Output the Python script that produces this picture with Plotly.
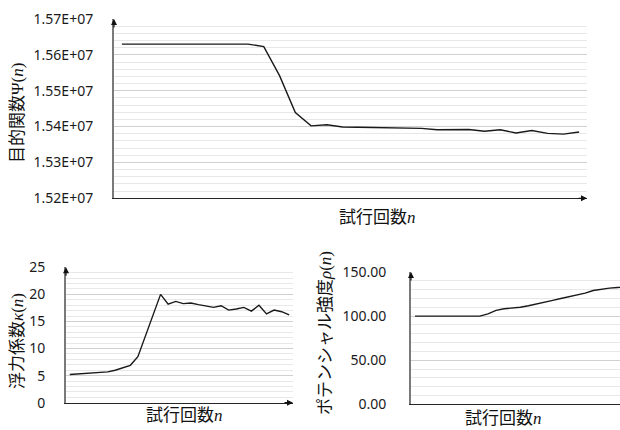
import plotly.graph_objects as go

trials = list(range(1, 31))
psi = [1.5630e7, 1.5630e7, 1.5630e7, 1.5630e7, 1.5630e7, 1.5630e7, 1.5630e7, 1.5630e7, 1.5630e7,
       1.5623e7, 1.5542e7, 1.5439e7, 1.5402e7, 1.5405e7, 1.5399e7, 1.5398e7, 1.5397e7, 1.5396e7,
       1.5396e7, 1.5395e7, 1.5391e7, 1.5391e7, 1.5392e7, 1.5387e7, 1.5391e7, 1.5382e7, 1.5389e7,
       1.5381e7, 1.5379e7, 1.5385e7]
kappa = [5.2, 5.3, 5.4, 5.5, 5.55, 5.7, 6.0, 6.45, 6.9, 8.5, 12.3, 16.2, 20.0, 18.2, 18.7,
         18.3, 18.4, 18.1, 17.9, 17.6, 17.9, 17.1, 17.3, 17.6, 16.9, 18.0, 16.4, 17.1, 16.8, 16.2]
rho = [100, 100, 100, 100, 100, 100, 100, 100, 100, 102.6, 106.5, 108.4, 109.0, 110.0, 111.8,
       113.6, 115.6, 117.9, 119.9, 121.7, 123.8, 126.0, 129.0, 130.5, 131.7, 132.4, 133.0, 133.5,
       134.0, 134.5]

psi_ticks = [1.52e7, 1.53e7, 1.54e7, 1.55e7, 1.56e7, 1.57e7]
psi_ticktext = ["1.52E+07", "1.53E+07", "1.54E+07", "1.55E+07", "1.56E+07", "1.57E+07"]

W, H = 620, 430
def px(x):
    return x / W
def py(y):
    return (H - y) / H

TICKFONT = dict(family="Noto Sans, Liberation Sans, sans-serif", size=14, color="#1a1a1a")
TITLEFONT = dict(family="Noto Sans CJK JP, sans-serif", size=17, color="#111")
GRID_MAJ = "#d0d0d0"
GRID_MIN = "#e8e8e8"
LINE = dict(color="#1a1a1a", width=1.4)

fig = go.Figure()
fig.add_trace(go.Scatter(x=trials, y=psi, mode="lines", line=LINE, xaxis="x", yaxis="y",
                         showlegend=False, hoverinfo="skip"))
fig.add_trace(go.Scatter(x=trials, y=kappa, mode="lines", line=LINE, xaxis="x2", yaxis="y2",
                         showlegend=False, hoverinfo="skip"))
fig.add_trace(go.Scatter(x=trials, y=rho, mode="lines", line=LINE, xaxis="x3", yaxis="y3",
                         showlegend=False, hoverinfo="skip"))

def xax(domain, rng, anchor):
    return dict(domain=domain, range=rng, anchor=anchor, showgrid=False, zeroline=False,
                showticklabels=False, ticks="", showline=True, linecolor="#262626", linewidth=1.4,
                automargin=False)

def yax(domain, rng, anchor, **kw):
    d = dict(domain=domain, range=rng, anchor=anchor, showgrid=True, gridcolor=GRID_MAJ,
             gridwidth=1, zeroline=False, ticks="", showline=True, linecolor="#7a7a7a",
             linewidth=2, tickfont=TICKFONT, ticklabelstandoff=16, automargin=False)
    d.update(kw)
    return d

fig.update_layout(
    width=W, height=H, margin=dict(l=0, r=0, t=0, b=0, pad=0), autosize=False,
    paper_bgcolor="white", plot_bgcolor="white",
    xaxis=xax([px(114), px(587)], [0.5, 30.5], "y"),
    yaxis=yax([py(198.3), py(19)], [1.52e7, 1.57e7], "x", tickmode="array",
              tickvals=psi_ticks, ticktext=psi_ticktext,
              minor=dict(tickmode="linear", tick0=1.52e7, dtick=2e4, showgrid=True,
                         gridcolor=GRID_MIN, gridwidth=1, ticks="")),
    xaxis2=xax([px(66), px(293)], [0.5, 30.5], "y2"),
    yaxis2=yax([py(402.7), py(267.3)], [0, 25], "x2", tickmode="linear", tick0=0, dtick=5,
               minor=dict(tickmode="linear", tick0=0, dtick=1, showgrid=True,
                          gridcolor=GRID_MIN, gridwidth=1, ticks="")),
    xaxis3=xax([px(411), 1.0], [0.5, 0.5 + (620 - 411) / 8.1], "y3"),
    yaxis3=yax([py(404.3), py(272)], [0, 150], "x3", tickmode="linear", tick0=0, dtick=50,
               tickformat=".2f", ticklabelstandoff=20,
               minor=dict(tickmode="linear", tick0=0, dtick=10, showgrid=True,
                          gridcolor=GRID_MIN, gridwidth=1, ticks="")),
)

SERIF = "font-family:'Liberation Serif','DejaVu Serif',serif"
def title(cjk, sym):
    return f"{cjk}<span style=\"{SERIF}\">{sym}(<i>n</i>)</span>"
xtitle = f"試行回数<span style=\"{SERIF}\"><i>n</i></span>"

ann = [
    dict(text=title("目的関数", "Ψ"), x=px(15), y=py(113), textangle=-90),
    dict(text=xtitle, x=px(377), y=py(215)),
    dict(text=title("浮力係数", "<i>κ</i>"), x=px(15), y=py(341), textangle=-90),
    dict(text=xtitle, x=px(184), y=py(413)),
    dict(text=title("ポテンシャル強度", "<i>ρ</i>"), x=px(323), y=py(333), textangle=-90),
    dict(text=xtitle, x=px(503), y=py(416.7)),
]
annotations = []
for a in ann:
    a.update(xref="paper", yref="paper", showarrow=False, font=TITLEFONT,
             xanchor="center", yanchor="middle")
    annotations.append(a)

def arrow(xr, yr, x, y, ax, ay):
    return dict(xref=xr, yref=yr, x=x, y=y, ax=ax, ay=ay, axref="pixel", ayref="pixel",
                text="", showarrow=True, arrowhead=2, arrowsize=1, arrowwidth=1.2,
                arrowcolor="#111", standoff=0, startstandoff=0)

annotations += [
    arrow("x domain", "y domain", 0, 1.0, 0, 10),
    arrow("x domain", "y domain", 1.0, 0, -10, 0),
    arrow("x2 domain", "y2 domain", 0, 1.0, 0, 10),
    arrow("x2 domain", "y2 domain", 1.0, 0, -10, 0),
    arrow("x3 domain", "y3 domain", 0, 1.0, 0, 10),
]
fig.update_layout(annotations=annotations)

fig.write_html("out.html", config={"responsive": False, "displayModeBar": False},
               post_script="document.body.style.margin='0';document.body.style.overflow='hidden';")
